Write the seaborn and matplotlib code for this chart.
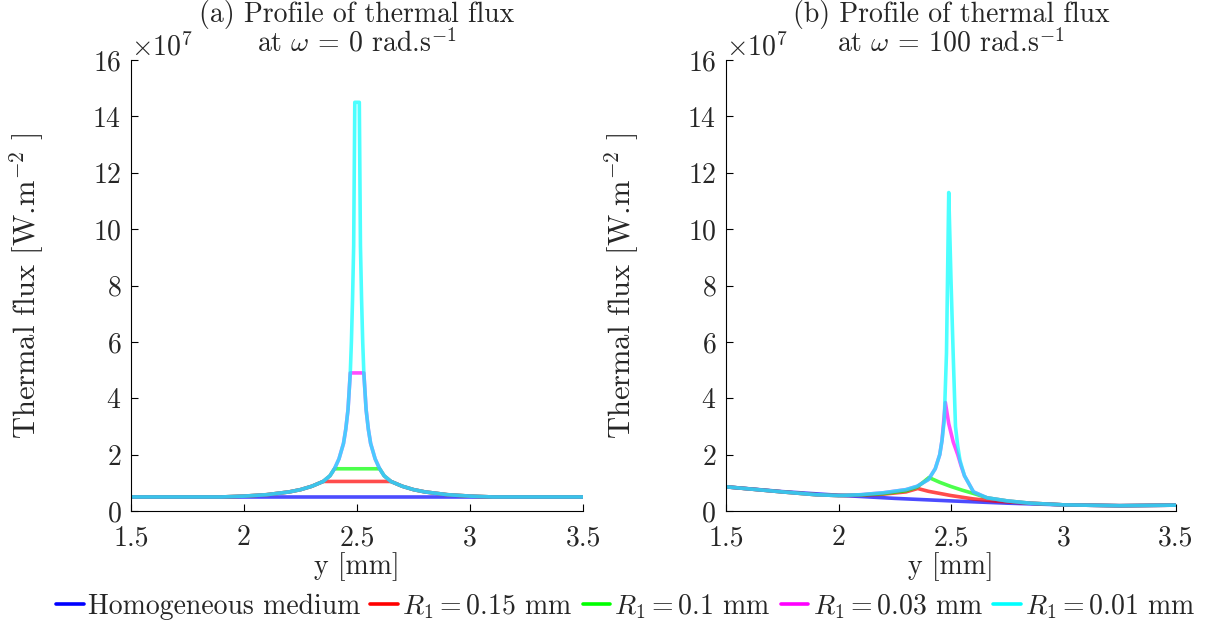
import numpy as np
import pandas as pd
import matplotlib
matplotlib.use("Agg")
import matplotlib.pyplot as plt
import seaborn as sns
from matplotlib.lines import Line2D
from matplotlib.font_manager import FontProperties

# ---------------- data (flux in units of 1e7 W/m^2, y in mm) ----------------
labels = ["Homogeneous medium", r"$R_1 = 0.15$ mm", r"$R_1 = 0.1$ mm",
          r"$R_1 = 0.03$ mm", r"$R_1 = 0.01$ mm"]
colors = ["#0000ff", "#ff0000", "#00ff00", "#ff00ff", "#00ffff"]

# (a) omega = 0
a_blue_x = [1.5, 3.5]
a_blue_y = [0.5, 0.5]
a_red_x = [1.5, 1.9, 2.0, 2.1, 2.2, 2.25, 2.3, 2.35, 2.65, 2.7, 2.75, 2.8, 2.9, 3.0, 3.1, 3.5]
a_red_y = [0.5, 0.5, 0.53, 0.58, 0.68, 0.76, 0.88, 1.05, 1.05, 0.88, 0.76, 0.68, 0.58, 0.53, 0.5, 0.5]
a_green_x = [1.5, 1.9, 2.0, 2.1, 2.2, 2.25, 2.3, 2.35, 2.38, 2.4, 2.6, 2.62, 2.65, 2.7, 2.75, 2.8,
             2.9, 3.0, 3.1, 3.5]
a_green_y = [0.5, 0.5, 0.53, 0.58, 0.68, 0.76, 0.88, 1.05, 1.25, 1.5, 1.5, 1.25, 1.05, 0.88, 0.76,
             0.68, 0.58, 0.53, 0.5, 0.5]
a_mag_x = [1.5, 1.9, 2.0, 2.1, 2.2, 2.25, 2.3, 2.35, 2.38, 2.4, 2.42, 2.44, 2.45, 2.46, 2.47,
           2.53, 2.54, 2.55, 2.56, 2.58, 2.6, 2.62, 2.65, 2.7, 2.75, 2.8, 2.9, 3.0, 3.1, 3.5]
a_mag_y = [0.5, 0.5, 0.53, 0.58, 0.68, 0.76, 0.88, 1.05, 1.25, 1.5, 1.85, 2.4, 2.9, 3.6, 4.9,
           4.9, 3.6, 2.9, 2.4, 1.85, 1.5, 1.25, 1.05, 0.88, 0.76, 0.68, 0.58, 0.53, 0.5, 0.5]
a_cyan_x = [1.5, 1.9, 2.0, 2.1, 2.2, 2.25, 2.3, 2.35, 2.38, 2.4, 2.42, 2.44, 2.45, 2.46, 2.47,
            2.475, 2.48, 2.485, 2.49, 2.51, 2.515, 2.52, 2.525, 2.53, 2.54, 2.55, 2.56, 2.58,
            2.6, 2.62, 2.65, 2.7, 2.75, 2.8, 2.9, 3.0, 3.1, 3.5]
a_cyan_y = [0.5, 0.5, 0.53, 0.58, 0.68, 0.76, 0.88, 1.05, 1.25, 1.5, 1.85, 2.4, 2.9, 3.6, 4.9,
            6.0, 7.5, 9.4, 14.5, 14.5, 9.4, 7.5, 6.0, 4.9, 3.6, 2.9, 2.4, 1.85,
            1.5, 1.25, 1.05, 0.88, 0.76, 0.68, 0.58, 0.53, 0.5, 0.5]

# (b) omega = 100
b_blue_x = [1.5, 1.75, 2.0, 2.25, 2.5, 2.75, 3.0, 3.25, 3.5]
b_blue_y = [0.86, 0.69, 0.56, 0.45, 0.36, 0.28, 0.22, 0.19, 0.21]
b_red_x = [1.5, 1.75, 1.9, 2.0, 2.1, 2.2, 2.3, 2.352, 2.4, 2.5, 2.6, 2.7, 2.8, 2.9, 3.0, 3.25, 3.5]
b_red_y = [0.86, 0.68, 0.58, 0.55, 0.56, 0.6, 0.68, 0.8, 0.7, 0.55, 0.43, 0.35, 0.3, 0.26, 0.22,
           0.19, 0.21]
b_green_x = [1.5, 1.75, 1.9, 2.0, 2.1, 2.2, 2.3, 2.35, 2.402, 2.45, 2.5, 2.55, 2.61, 2.66, 2.75,
             2.85, 3.0, 3.25, 3.5]
b_green_y = [0.86, 0.68, 0.58, 0.55, 0.57, 0.62, 0.72, 0.85, 1.19, 1.02, 0.87, 0.74, 0.6, 0.47,
             0.36, 0.28, 0.22, 0.19, 0.21]
b_mag_x = [1.5, 1.75, 1.9, 2.0, 2.1, 2.2, 2.3, 2.35, 2.4, 2.43, 2.45, 2.46, 2.475, 2.49, 2.51,
           2.53, 2.545, 2.56, 2.6, 2.66, 2.75, 2.85, 3.0, 3.25, 3.5]
b_mag_y = [0.86, 0.68, 0.58, 0.55, 0.58, 0.65, 0.76, 0.88, 1.12, 1.5, 2.0, 2.5, 3.85, 3.1, 2.45,
           2.0, 1.6, 1.25, 0.68, 0.47, 0.36, 0.28, 0.22, 0.19, 0.21]
b_cyan_x = [1.5, 1.75, 1.9, 2.0, 2.1, 2.2, 2.3, 2.35, 2.4, 2.43, 2.45, 2.46, 2.47, 2.48, 2.49,
            2.5, 2.51, 2.52, 2.53, 2.54, 2.56, 2.6, 2.66, 2.75, 2.85, 3.0, 3.25, 3.5]
b_cyan_y = [0.86, 0.68, 0.58, 0.55, 0.58, 0.65, 0.76, 0.88, 1.12, 1.5, 2.0, 2.5, 3.2, 5.6, 11.3,
            8.2, 5.5, 3.0, 2.3, 1.8, 1.25, 0.68, 0.47, 0.36, 0.28, 0.22, 0.19, 0.21]

xticks = [1.5, 2, 2.5, 3, 3.5]
xtick_labels = ["1.5", "2", "2.5", "3", "3.5"]
yticks = [0, 2, 4, 6, 8, 10, 12, 14, 16]
titles = ["(a) Profile of thermal flux\nat $\\omega$ = 0 rad.s$^{-1}$",
          "(b) Profile of thermal flux\nat $\\omega$ = 100 rad.s$^{-1}$"]

panel_a = [(a_blue_x, a_blue_y), (a_red_x, a_red_y), (a_green_x, a_green_y),
           (a_mag_x, a_mag_y), (a_cyan_x, a_cyan_y)]
panel_b = [(b_blue_x, b_blue_y), (b_red_x, b_red_y), (b_green_x, b_green_y),
           (b_mag_x, b_mag_y), (b_cyan_x, b_cyan_y)]

# ---------------- style ----------------
sns.set_theme(style="white")
plt.rcParams.update({
    "font.family": ["serif"],
    "font.serif": ["cmr10", "DejaVu Serif"],
    "mathtext.fontset": "cm",
    "mathtext.rm": "cmr10",
    "axes.formatter.use_mathtext": True,
    "axes.unicode_minus": False,
    "xtick.direction": "in",
    "ytick.direction": "in",
})

FS = 20
fig = plt.figure(figsize=(12.27, 6.24), dpi=100)
ax_a = fig.add_axes([0.1068, 0.181, 0.3684, 0.7228])
ax_b = fig.add_axes([0.5917, 0.181, 0.3667, 0.7228])

for ax, panel, title in [(ax_a, panel_a, titles[0]), (ax_b, panel_b, titles[1])]:
    for (xs, ys), c, lab in zip(panel, colors, labels):
        df = pd.DataFrame({"y": xs, "flux": np.array(ys) * 1e7})
        sns.lineplot(data=df, x="y", y="flux", ax=ax, color=c, lw=2.6, alpha=0.7,
                     estimator=None, sort=False, solid_capstyle="round",
                     solid_joinstyle="round")
    ax.set_xlim(1.5, 3.5)
    ax.set_ylim(0, 16e7)
    ax.set_xticks(xticks)
    ax.set_xticklabels(xtick_labels)
    ax.set_yticks([v * 1e7 for v in yticks])
    ax.ticklabel_format(axis="y", style="sci", scilimits=(7, 7), useMathText=True)
    ax.yaxis.get_offset_text().set_fontsize(FS)
    ax.tick_params(axis="both", labelsize=FS, length=5, width=0.8, color="black",
                   left=True, bottom=True)
    ax.tick_params(axis="x", pad=10)
    ax.tick_params(axis="y", pad=7)
    for s in ["top", "right"]:
        ax.spines[s].set_visible(False)
    for s in ["left", "bottom"]:
        ax.spines[s].set_color("black")
        ax.spines[s].set_linewidth(0.8)
    ax.set_xlabel("y [mm]", fontsize=FS, labelpad=1)
    ax.set_ylabel("Thermal flux [W.m$^{-2}$ ]", fontsize=22, labelpad=33)
    ax.set_title(title, fontsize=FS, linespacing=1.0, pad=6)

handles = [Line2D([0], [0], color=c, lw=2.6) for c in colors]
fig.legend(handles, labels, loc="lower center", bbox_to_anchor=(0.51, -0.035), ncol=5,
           frameon=False, prop=FontProperties(family="cmr10", size=FS),
           handlelength=1.0, handletextpad=0.15, columnspacing=0.35)

fig.savefig("out.png", dpi=100)
